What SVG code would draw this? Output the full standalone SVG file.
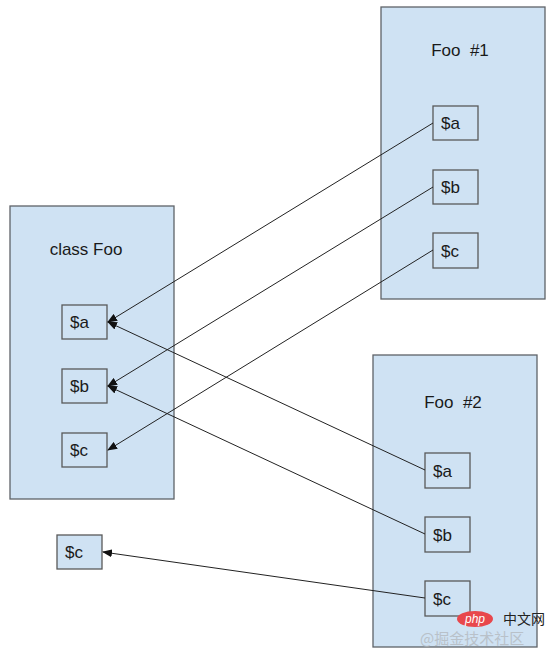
<svg xmlns="http://www.w3.org/2000/svg" width="556" height="654" viewBox="0 0 556 654">
<defs>
<style>
.outer{fill:#cfe2f3;stroke:#5f6368;stroke-width:1.3}
.inner{fill:#cfe2f3;stroke:#595959;stroke-width:1.3}
.t{font-family:"Liberation Sans",Arial,sans-serif;font-size:17px;fill:#1a1a1a}
.c{fill:none;stroke:#222;stroke-width:1}
</style>
<marker id="arr" markerWidth="10" markerHeight="8" refX="9" refY="4" orient="auto" markerUnits="userSpaceOnUse">
<path d="M0,0 L10,4 L0,8 Z" fill="#111"/>
</marker>
</defs>
<rect width="556" height="654" fill="#ffffff"/>

<g id="classFoo">
<rect class="outer" x="10" y="206" width="164" height="293"/>
<text class="t" x="86" y="255" text-anchor="middle">class Foo</text>
<g id="classFoo-a"><rect class="inner" x="62" y="305" width="45" height="34"/><text class="t" x="70" y="328">$a</text></g>
<g id="classFoo-b"><rect class="inner" x="62" y="369" width="45" height="34"/><text class="t" x="70" y="392">$b</text></g>
<g id="classFoo-c"><rect class="inner" x="62" y="433" width="45" height="34"/><text class="t" x="70" y="456">$c</text></g>
</g>

<g id="foo1">
<rect class="outer" x="381" y="7" width="164" height="292"/>
<text class="t" x="460" y="56" text-anchor="middle">Foo&#160; #1</text>
<g id="foo1-a"><rect class="inner" x="433" y="106" width="45" height="34"/><text class="t" x="441" y="129">$a</text></g>
<g id="foo1-b"><rect class="inner" x="433" y="170" width="45" height="34"/><text class="t" x="441" y="193">$b</text></g>
<g id="foo1-c"><rect class="inner" x="433" y="233" width="45" height="35"/><text class="t" x="441" y="257">$c</text></g>
</g>

<g id="foo2">
<rect class="outer" x="373" y="355" width="164" height="292"/>
<text class="t" x="453" y="408" text-anchor="middle">Foo&#160; #2</text>
<g id="foo2-a"><rect class="inner" x="425" y="453" width="45" height="35"/><text class="t" x="433" y="477">$a</text></g>
<g id="foo2-b"><rect class="inner" x="425" y="517" width="45" height="35"/><text class="t" x="433" y="541">$b</text></g>
<g id="foo2-c"><rect class="inner" x="425" y="581" width="45" height="35"/><text class="t" x="433" y="605">$c</text></g>
</g>

<g id="loose-c">
<rect class="inner" x="57" y="535" width="45" height="34"/>
<text class="t" x="65" y="558">$c</text>
</g>

<g id="connectors">
<line class="c" x1="433" y1="123" x2="108" y2="322" marker-end="url(#arr)"/>
<line class="c" x1="433" y1="187" x2="108" y2="386" marker-end="url(#arr)"/>
<line class="c" x1="433" y1="250" x2="108" y2="450" marker-end="url(#arr)"/>
<line class="c" x1="425" y1="470" x2="108" y2="322" marker-end="url(#arr)"/>
<line class="c" x1="425" y1="534" x2="108" y2="386" marker-end="url(#arr)"/>
<line class="c" x1="425" y1="598" x2="103" y2="552" marker-end="url(#arr)"/>
</g>

<g id="watermark">
<text x="420" y="644" font-family="'Noto Sans CJK SC',sans-serif" font-size="15" fill="#b0b4b8" opacity="0.7">@掘金技术社区</text>
<ellipse cx="475" cy="619" rx="18" ry="8" fill="#e8474c"/>
<text x="475" y="623" text-anchor="middle" font-family="'Liberation Sans',sans-serif" font-style="italic" font-size="12" fill="#ffffff">php</text>
<text x="503" y="624" font-family="'Noto Sans CJK SC',sans-serif" font-size="14" fill="#222">中文网</text>
</g>
</svg>
